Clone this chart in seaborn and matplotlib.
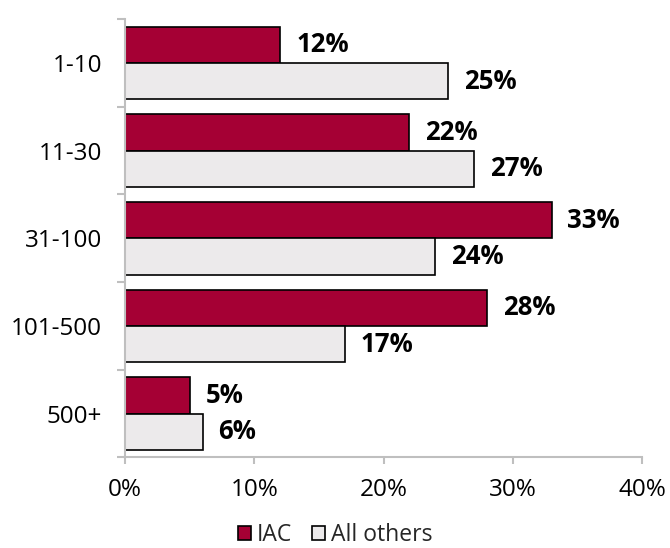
import matplotlib
matplotlib.use("Agg")
import matplotlib.pyplot as plt
from matplotlib.patches import Patch
from matplotlib.ticker import FixedLocator, PercentFormatter
import seaborn as sns
import pandas as pd

# Survey shares by company size band
categories = ["1-10", "11-30", "31-100", "101-500", "500+"]
series_names = ["IAC", "All others"]
iac_values = [12, 22, 33, 28, 5]
other_values = [25, 27, 24, 17, 6]
x_ticks = [0, 10, 20, 30, 40]

colors = {"IAC": "#A50034", "All others": "#ECEAEB"}

df = pd.DataFrame({
    "size": categories * 2,
    "group": [series_names[0]] * len(categories) + [series_names[1]] * len(categories),
    "share": iac_values + other_values,
})

sns.set_theme(style="white")
plt.rcParams["font.family"] = ["Open Sans", "DejaVu Sans"]

fig = plt.figure(figsize=(6.7, 5.48), dpi=100)
ax = fig.add_axes([0.1866, 0.1655, 0.7716, 0.7993])

sns.barplot(
    data=df, y="size", x="share", hue="group", order=categories,
    hue_order=series_names, palette=colors, saturation=1, orient="h", width=0.83,
    edgecolor="black", linewidth=1.2, ax=ax, legend=False,
)

# Value labels at the end of each bar
for container in ax.containers:
    ax.bar_label(container, labels=[f"{v:.0f}%" for v in container.datavalues],
                 padding=11.5, fontsize=18.5, fontweight="bold", color="black")

ax.set_xlim(0, 40)
ax.set_ylim(len(categories) - 0.5, -0.5)
ax.xaxis.set_major_locator(FixedLocator(x_ticks))
ax.xaxis.set_major_formatter(PercentFormatter(decimals=0))
ax.set_xlabel("")
ax.set_ylabel("")

spine_color = "#BFBFBF"
for side in ["top", "right"]:
    ax.spines[side].set_visible(False)
for side in ["left", "bottom"]:
    ax.spines[side].set_color(spine_color)
    ax.spines[side].set_linewidth(1.5)

# Category ticks sit between groups; labels stay centered without marks
ax.yaxis.set_minor_locator(FixedLocator([i - 0.5 for i in range(len(categories) + 1)]))
ax.tick_params(axis="y", which="major", length=0, pad=16.5, labelsize=17.5, labelcolor="black")
ax.tick_params(axis="y", which="minor", length=5.5, width=1.5, color=spine_color, left=True)
ax.tick_params(axis="x", which="major", length=5, width=1.5, color=spine_color,
               bottom=True, pad=10, labelsize=17.5, labelcolor="black")

handles = [Patch(facecolor=colors[n], edgecolor="black", linewidth=1.2, label=n)
           for n in series_names]
fig.legend(handles=handles, loc="lower center", bbox_to_anchor=(0.5, 0.002), ncol=2,
           frameon=False, fontsize=16.5, handlelength=0.55, handleheight=0.55,
           handletextpad=0.25, columnspacing=0.9, borderaxespad=0, borderpad=0)

fig.savefig("out.png", dpi=100)
